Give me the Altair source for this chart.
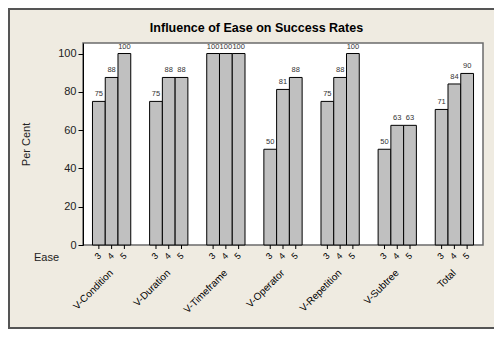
import altair as alt
import pandas as pd

groups = ["V-Condition", "V-Duration", "V-Timeframe", "V-Operator",
          "V-Repetition", "V-Subtree", "Total"]
ease_levels = ["3", "4", "5"]
v_condition = [75, 87.5, 100]
v_duration = [75, 87.5, 87.5]
v_timeframe = [100, 100, 100]
v_operator = [50, 81.25, 87.5]
v_repetition = [75, 87.5, 100]
v_subtree = [50, 62.5, 62.5]
total = [70.8, 84.1, 89.6]
y_ticks = [0, 20, 40, 60, 80, 100]

series = [v_condition, v_duration, v_timeframe, v_operator, v_repetition, v_subtree, total]
rows = []
for g, vals in zip(groups, series):
    for e, v in zip(ease_levels, vals):
        rows.append({"group": g, "ease": e, "value": v})
df = pd.DataFrame(rows)

W, H = 400, 202
FONT = "Liberation Sans"

x_enc = alt.X("group:N", sort=groups,
              scale=alt.Scale(paddingInner=0.33, paddingOuter=0.166),
              axis=alt.Axis(labelAngle=-45, labelAlign="right", labelBaseline="middle",
                            ticks=False, domain=False, labelPadding=26, title=None,
                            labelFontSize=10, labelFont=FONT, labelColor="black"))
xo_enc = alt.XOffset("ease:N", sort=ease_levels, scale=alt.Scale(paddingInner=0, paddingOuter=0))
y_enc = alt.Y("value:Q", scale=alt.Scale(domain=[0, 105.5], nice=False),
              axis=alt.Axis(values=y_ticks, grid=False, title="Per Cent", titleFont=FONT,
                            titleFontSize=11, titleFontWeight="normal", titleColor="#222",
                            titleX=-52, titleY=H / 2, labelFont=FONT, labelFontSize=11,
                            labelColor="#222", tickColor="black", tickSize=5,
                            domainColor="black", labelPadding=2))

base = alt.Chart(df)

bars = base.mark_bar(fill="#C0C0C0", stroke="black", strokeWidth=1).encode(
    x=x_enc, xOffset=xo_enc, y=y_enc)

vals = base.mark_text(baseline="bottom", dy=-3, fontSize=7.5, font=FONT, color="#333").encode(
    x=alt.X("group:N", sort=groups), xOffset=alt.XOffset("ease:N", sort=ease_levels),
    y="value:Q", text=alt.Text("value:Q", format=".0f"))

eticks = base.mark_rule(color="black", strokeWidth=1).encode(
    x=alt.X("group:N", sort=groups), xOffset=alt.XOffset("ease:N", sort=ease_levels),
    y=alt.value(H), y2=alt.value(H + 4))

elabels = base.mark_text(angle=315, align="right", baseline="middle", fontSize=9,
                         font=FONT, color="black", dx=1).encode(
    x=alt.X("group:N", sort=groups), xOffset=alt.XOffset("ease:N", sort=ease_levels),
    y=alt.value(H + 10), text="ease:N")

one = alt.Chart(pd.DataFrame({"t": ["Ease"]}))
ease_word = one.mark_text(align="right", baseline="middle", fontSize=11, font=FONT,
                          color="#222").encode(
    x=alt.value(-24), y=alt.value(H + 12.5), text="t:N")

title_df = pd.DataFrame({"t": ["Influence of Ease on Success Rates"]})
title = alt.Chart(title_df).mark_text(align="center", baseline="middle", fontSize=12.5,
                                      fontWeight="bold", font=FONT, color="black").encode(
    x=alt.value(173.5), y=alt.value(-15), text="t:N")

border_l = one.mark_rule(color="#555", strokeWidth=2).encode(
    x=alt.value(-74), y=alt.value(-35), y2=alt.value(H + 84))
border_t = one.mark_rule(color="#555", strokeWidth=2).encode(
    x=alt.value(-75), x2=alt.value(W + 11), y=alt.value(-34))
border_b = one.mark_rule(color="#555", strokeWidth=2).encode(
    x=alt.value(-75), x2=alt.value(W + 11), y=alt.value(H + 83))

chart = alt.layer(bars, vals, eticks, elabels, ease_word, title, border_l, border_t, border_b).properties(
    width=W, height=H,
    autosize=alt.AutoSizeParams(type="none"),
    padding={"left": 75, "top": 35, "right": 11, "bottom": 84},
    background="#EFEBE1",
).configure_view(stroke="#6b6b6b", strokeWidth=1.5, fill="white")

chart.save("out.html", embed_options={"renderer": "svg", "actions": False})
